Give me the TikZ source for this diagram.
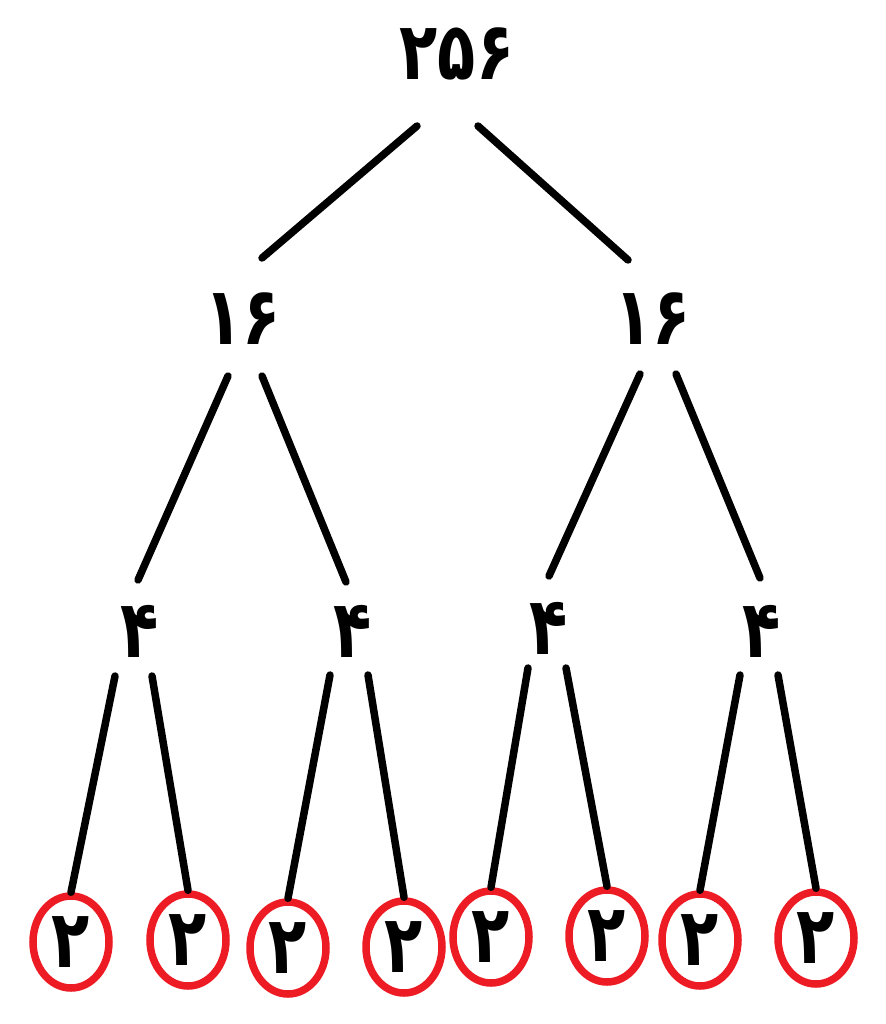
\documentclass[tikz,border=0pt]{standalone}
\usepackage{fontspec}
\usepackage{graphicx}
\newfontfamily\fafont[Script=Arabic]{DejaVu Sans}
\newcommand{\fadigits}[1]{\scalebox{0.92}[1.18]{#1}}
\usepackage{tikz}
\usetikzlibrary{shapes.geometric}

\begin{document}
\begin{tikzpicture}[
        x=1pt, y=-1pt,
        num/.style={font=\fafont\bfseries\fontsize{68}{68}\selectfont, inner sep=0pt},
        leaf/.style={num, draw=leafred, ellipse, line width=7.5pt, minimum width=76pt, minimum height=92pt},
        edge/.style={line width=7.5pt, line cap=round},
    ]
        \definecolor{leafred}{HTML}{ED1C24}
        \useasboundingbox (0,0) rectangle (885,1024);

        \node[num] (root) at (457,54)  {\fadigits{۲۵۶}};
        \node[num] (l16)  at (243,319) {\fadigits{۱۶}};
        \node[num] (r16)  at (653,319) {\fadigits{۱۶}};
        \node[num] (f1)   at (140,631) {\fadigits{۴}};
        \node[num] (f2)   at (353,631) {\fadigits{۴}};
        \node[num] (f3)   at (549,628) {\fadigits{۴}};
        \node[num] (f4)   at (762,631) {\fadigits{۴}};
        \node[leaf] (t1)  at (71,942)  {\fadigits{۲}};
        \node[leaf] (t2)  at (188,940) {\fadigits{۲}};
        \node[leaf] (t3)  at (288,948) {\fadigits{۲}};
        \node[leaf] (t4)  at (404,947) {\fadigits{۲}};
        \node[leaf] (t5)  at (491,937) {\fadigits{۲}};
        \node[leaf] (t6)  at (607,936) {\fadigits{۲}};
        \node[leaf] (t7)  at (700,940) {\fadigits{۲}};
        \node[leaf] (t8)  at (816,938) {\fadigits{۲}};

        \draw[edge] ([shift={(-40,72)}]root.center) -- ([shift={(19,-61)}]l16.center);
        \draw[edge] ([shift={(21,72)}]root.center)  -- ([shift={(-25,-59)}]r16.center);

        \draw[edge] ([shift={(-15,57)}]l16.center) -- ([shift={(-2,-51)}]f1.center);
        \draw[edge] ([shift={(19,57)}]l16.center)  -- ([shift={(-7,-49)}]f2.center);
        \draw[edge] ([shift={(-13,55)}]r16.center) -- ([shift={(0,-52)}]f3.center);
        \draw[edge] ([shift={(23,55)}]r16.center)  -- ([shift={(-2,-53)}]f4.center);

        \draw[edge] ([shift={(-25,45)}]f1.center) -- (t1.north);
        \draw[edge] ([shift={(12,45)}]f1.center)  -- (t2.north);
        \draw[edge] ([shift={(-23,44)}]f2.center) -- (t3.north);
        \draw[edge] ([shift={(15,44)}]f2.center)  -- (t4.north);
        \draw[edge] ([shift={(-21,40)}]f3.center) -- (t5.north);
        \draw[edge] ([shift={(17,40)}]f3.center)  -- (t6.north);
        \draw[edge] ([shift={(-22,44)}]f4.center) -- (t7.north);
        \draw[edge] ([shift={(16,44)}]f4.center)  -- (t8.north);
    \end{tikzpicture}
\end{document}
